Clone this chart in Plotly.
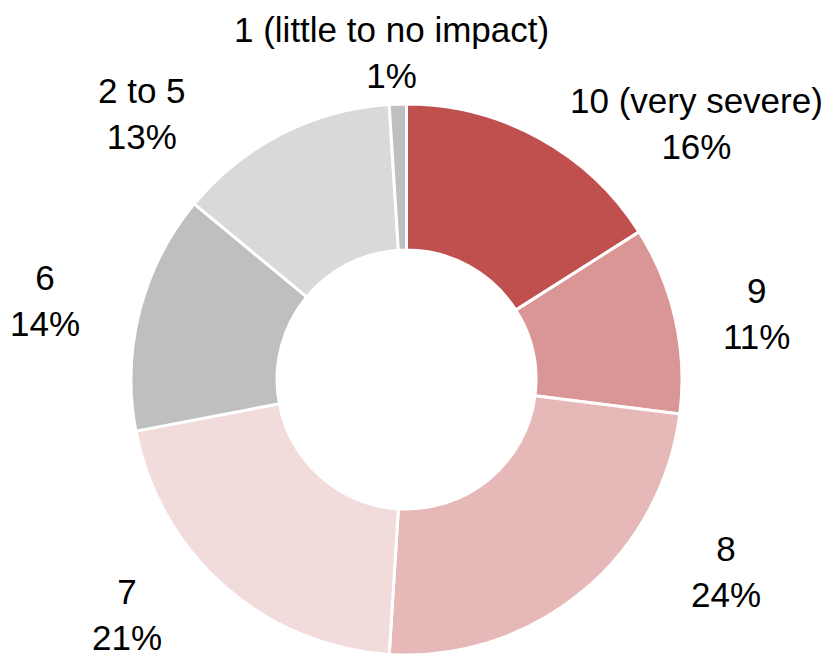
import plotly.graph_objects as go

W, H = 826, 655

categories = ["10 (very severe)", "9", "8", "7", "6", "2 to 5", "1 (little to no impact)"]
values = [16, 11, 24, 21, 14, 13, 1]
colors = ["#C0504D", "#D99694", "#E6B9B8", "#F2DCDB", "#BFBFBF", "#D9D9D9", "#BFBFBF"]

# label block centres in pixels (layout only)
label_px = [(696, 123), (756, 314), (726, 571), (127, 614), (45, 301), (142, 113), (391, 52)]

fig = go.Figure()
fig.add_trace(go.Pie(
    labels=categories,
    values=values,
    sort=False,
    direction="clockwise",
    rotation=0,
    hole=0.47,
    marker=dict(colors=colors, line=dict(color="white", width=3)),
    textinfo="none",
    hoverinfo="label+percent",
    showlegend=False,
    domain=dict(x=[130 / W, 683 / W], y=[0, 551 / H]),
))

total = sum(values)
for cat, v, (px, py) in zip(categories, values, label_px):
    pct = round(100 * v / total)
    fig.add_annotation(
        x=px / W, y=1 - py / H, xref="paper", yref="paper",
        text=f"{cat}<br>{pct}%", showarrow=False,
        xanchor="center", yanchor="middle", align="center",
        font=dict(family="Liberation Sans, Arial, sans-serif", size=35, color="#000000"),
    )

fig.update_layout(
    width=W, height=H,
    margin=dict(l=0, r=0, t=0, b=0),
    paper_bgcolor="white", plot_bgcolor="white",
)

fig.write_html(
    "out.html",
    config={"displayModeBar": False},
    post_script="document.body.style.margin='0px';document.body.style.overflow='hidden';",
)
